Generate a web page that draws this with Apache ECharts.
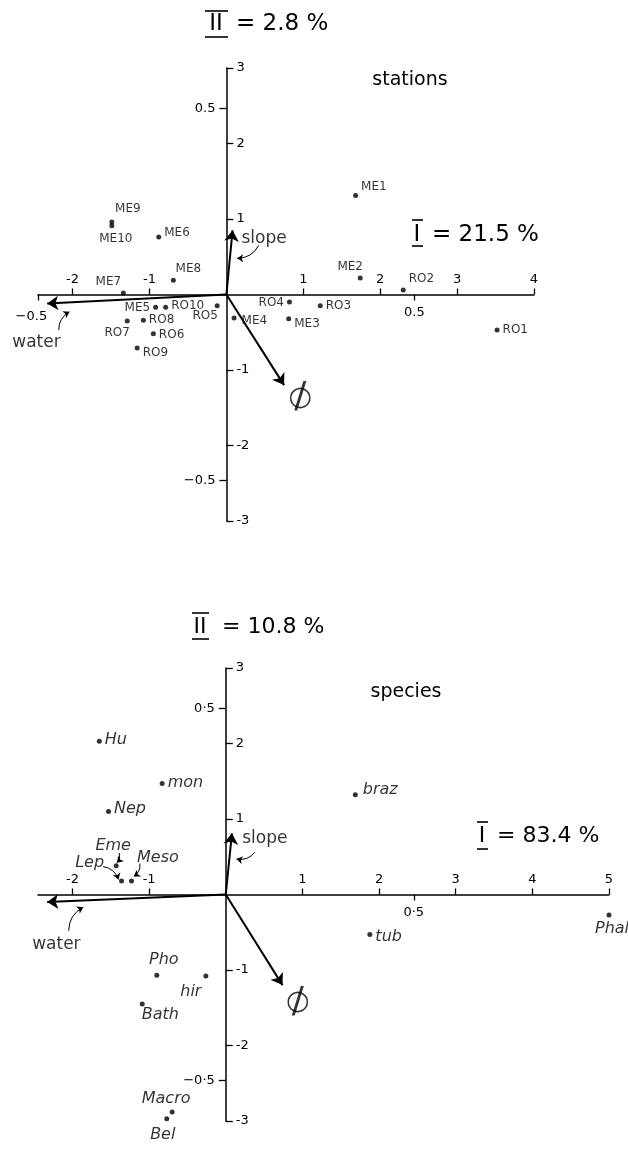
<!DOCTYPE html>
<html>
<head>
<meta charset="utf-8">
<script src="https://cdn.jsdelivr.net/npm/echarts@6/dist/echarts.min.js"></script>
<style>html,body{margin:0;padding:0;background:#fff}#c{width:628px;height:1152px}</style>
</head>
<body>
<div id="c"></div>
<script>
// ---------- DATA ----------
const stationNames = ['ME1','ME2','RO2','RO1','RO3','RO4','ME3','ME4','RO5','RO10','ME5','RO8','RO7','RO6','RO9','ME7','ME8','ME6','ME9','ME10'];
const stationX = [1.68, 1.74, 2.30, 3.52, 1.22, 0.82, 0.81, 0.10, -0.12, -0.79, -0.92, -1.08, -1.29, -0.95, -1.16, -1.34, -0.69, -0.88, -1.49, -1.49];
const stationY = [1.31, 0.22, 0.06, -0.47, -0.15, -0.10, -0.32, -0.31, -0.15, -0.17, -0.17, -0.34, -0.35, -0.52, -0.71, 0.02, 0.19, 0.76, 0.96, 0.91];

const speciesNames = ['Hu','mon','Nep','Eme','Lep','Meso','braz','tub','Phal','Pho','hir','Bath','Macro','Bel'];
const speciesX = [-1.65, -0.83, -1.53, -1.43, -1.36, -1.23, 1.69, 1.88, 5.0, -0.90, -0.26, -1.09, -0.70, -0.77];
const speciesY = [2.03, 1.47, 1.10, 0.38, 0.18, 0.18, 1.32, -0.53, -0.27, -1.07, -1.08, -1.45, -2.88, -2.97];

const vectorNames = ['water','slope','phi'];
const stationVecX = [-2.33, 0.08, 0.75];
const stationVecY = [-0.12, 0.85, -1.20];
const speciesVecX = [-2.33, 0.08, 0.74];
const speciesVecY = [-0.10, 0.81, -1.20];

const xMin = -2.45;
const xMaxTop = 4, xMaxBottom = 5;
const yMin = -3, yMax = 3;
const primaryXTicksTop = [-2, -1, 1, 2, 3, 4];
const primaryXTicksBottom = [-2, -1, 1, 2, 3, 4, 5];
const primaryYTicks = [-3, -2, -1, 1, 2, 3];
const secondaryTicks = [-0.5, 0.5];
const secondaryLabelsTop = {'-0.5': '\u22120.5', '0.5': '0.5'};
const secondaryLabelsBottom = {'-0.5': '\u22120\u00b75', '0.5': '0\u00b75'};

const axisTitlesTop = ['II', '= 2.8 %', 'I', '= 21.5 %', 'stations'];
const axisTitlesBottom = ['II', '= 10.8 %', 'I', '= 83.4 %', 'species'];

// ---------- LAYOUT / STYLE ----------
const FONT = 'DejaVu Sans';
const INK = '#000000';
const grids = [
  {left:38, top:68, width:496, height:453},
  {left:38, top:668, width:571, height:453}
];
const stationPlace = {
  ME1:['right',[0,-9]], ME2:['top',[-10,0]], RO2:['right',[0,-11]], RO1:['right',[0,0]],
  RO3:['right',[0,0]], RO4:['left',[0,1]], ME3:['right',[0,5]], ME4:['right',[2,3]],
  RO5:['bottom',[-12,-1]], RO10:['right',[0,-1]], ME5:['left',[0,1]], RO8:['right',[0,0]],
  RO7:['bottom',[-10,0]], RO6:['right',[0,1]], RO9:['right',[0,5]], ME7:['top',[-15,0]],
  ME8:['top',[15,0]], ME6:['right',[0,-4]], ME9:['top',[16,-2]], ME10:['bottom',[4,2]]
};
const speciesPlace = {
  Hu:['right',[0,-1]], mon:['right',[0,-1]], Nep:['right',[0,-3]], Eme:['top',[-3,-6]],
  Lep:['left',[-12,-18]], Meso:['right',[0,-23]], braz:['right',[2,-5]], tub:['right',[0,2]],
  Phal:['bottom',[3,0]], Pho:['top',[7,-2]], hir:['bottom',[-15,2]], Bath:['right',[-6,11]],
  Macro:['top',[-6,0]], Bel:['bottom',[-4,3]]
};
// text anchors (data units) for vector names
const stationVecText = {slope:[0.49,0.74], water:[-2.47,-0.64], phi:[0.96,-1.37]};
const speciesVecText = {slope:[0.51,0.74], water:[-2.21,-0.66], phi:[0.94,-1.43]};
// little leader arrows (data units)
const stationLeaders = [[[0.42,0.65],[0.14,0.48]], [[-2.18,-0.47],[-2.04,-0.23]]];
const speciesLeaders = [[[0.38,0.56],[0.14,0.47]], [[-2.05,-0.48],[-1.86,-0.17]],
  [[-1.60,0.37],[-1.40,0.20]], [[-1.39,0.55],[-1.42,0.42]], [[-1.12,0.41],[-1.20,0.24]]];

const chart = echarts.init(document.getElementById('c'), null, {renderer:'canvas'});

function secFormatter(labels) {
  return v => v < 0 ? '{n|' + labels[String(v)] + '}' : labels[String(v)];
}

function axisPair(g, xMax, xTicks, secLabels) {
  const gr = grids[g];
  // pixel position of the origin inside the grid -> axis offsets so the axes cross at (0,0)
  const ox = gr.left + gr.width * (0 - xMin) / (xMax - xMin);
  const oy = gr.top + gr.height * (yMax - 0) / (yMax - yMin);
  const secXPerPx = 0.5 / 188;
  const secXMax = (gr.left + gr.width - ox) * secXPerPx;
  const secXMin = -(ox - gr.left) * secXPerPx;
  const secYMax = (oy - gr.top) * (0.5 / 186);
  const tickStyle = {color: INK, width: 1.3};
  const labStyle = {color: INK, fontFamily: FONT, fontSize: 13};
  const xs = [
    {type:'value', gridIndex:g, min:xMin, max:xMax, position:'top', offset:-(oy - gr.top),
     axisLine:{show:true, onZero:false, lineStyle:{color:INK, width:1.5}},
     axisTick:{show:true, inside:false, length:6, customValues:xTicks, lineStyle:tickStyle},
     axisLabel:Object.assign({show:true, margin:8, customValues:xTicks}, labStyle),
     splitLine:{show:false}},
    {type:'value', gridIndex:g, min:secXMin, max:secXMax, position:'bottom', offset:-(gr.top + gr.height - oy),
     axisLine:{show:false, onZero:false},
     axisTick:{show:true, inside:false, length:6, customValues:secondaryTicks, lineStyle:tickStyle},
     axisLabel:Object.assign({show:true, margin:12, customValues:secondaryTicks, formatter:secFormatter(secLabels),
       rich:{n:{fontFamily:FONT, fontSize:13, color:INK, padding:[4 + g*3, 14, 0, 0]}}}, labStyle),
     splitLine:{show:false}}
  ];
  const ys = [
    {type:'value', gridIndex:g, min:yMin, max:yMax, position:'right', offset:-(gr.left + gr.width - ox),
     axisLine:{show:true, onZero:false, lineStyle:{color:INK, width:1.5}},
     axisTick:{show:true, inside:false, length:7, customValues:primaryYTicks, lineStyle:tickStyle},
     axisLabel:Object.assign({show:true, margin:10, customValues:primaryYTicks}, labStyle),
     splitLine:{show:false}},
    {type:'value', gridIndex:g, min:-secYMax, max:secYMax, position:'left', offset:-(ox - gr.left),
     axisLine:{show:false, onZero:false},
     axisTick:{show:true, inside:false, length:7, customValues:secondaryTicks, lineStyle:tickStyle},
     axisLabel:Object.assign({show:true, margin:11, customValues:secondaryTicks, formatter:v=>secLabels[String(v)]}, labStyle),
     splitLine:{show:false}}
  ];
  return {xs, ys};
}

function pointSeries(g, names, xs, ys, place, italic, size) {
  return {
    type:'scatter', xAxisIndex:g*2, yAxisIndex:g*2, symbolSize:5, z:5, clip:false,
    itemStyle:{color:INK}, silent:true,
    label:{show:true, formatter:'{b}', color:INK, fontFamily:FONT, fontSize:size,
           fontStyle: italic ? 'italic' : 'normal', distance:3},
    data: names.map((n,i)=>({name:n, value:[xs[i], ys[i]],
           label:{position:place[n][0], offset:place[n][1]}}))
  };
}

function vectorSeries(g, vx, vy) {
  return {
    type:'lines', coordinateSystem:'cartesian2d', xAxisIndex:g*2, yAxisIndex:g*2,
    symbol:['none','arrow'], symbolSize:[7,11], z:4, silent:true,
    lineStyle:{color:INK, width:2, opacity:1, curveness:0},
    data: vectorNames.map((n,i)=>({coords:[[0,0],[vx[i],vy[i]]]}))
  };
}

function leaderSeries(g, leaders) {
  return {
    type:'lines', coordinateSystem:'cartesian2d', xAxisIndex:g*2, yAxisIndex:g*2,
    symbol:['none','arrow'], symbolSize:[4,6], z:4, silent:true,
    lineStyle:{color:INK, width:1, opacity:1, curveness:0.3},
    data: leaders.map(c=>({coords:c}))
  };
}

function vecTextSeries(g, anchors) {
  const items = [
    {name:'slope', value:anchors.slope},
    {name:'water', value:anchors.water},
    {name:'\u25CB', value:anchors.phi, label:{fontSize:27, offset:[0,-1]}},
    {name:'/', value:anchors.phi, label:{fontSize:36, offset:[0,3]}}
  ];
  return {
    type:'scatter', xAxisIndex:g*2, yAxisIndex:g*2, symbolSize:0, silent:true, z:6, clip:false,
    label:{show:true, position:'inside', formatter:'{b}', color:INK, fontFamily:FONT, fontSize:17},
    labelLayout:{hideOverlap:false},
    data: items
  };
}

const a0 = axisPair(0, xMaxTop, primaryXTicksTop, secondaryLabelsTop);
const a1 = axisPair(1, xMaxBottom, primaryXTicksBottom, secondaryLabelsBottom);

function titleGraphics(texts, y0, iiX, iiBars, eqX, iX, iBars, iY, eqIX, subX, subY, fs) {
  const els = [];
  const tstyle = (t, x, y, size, align) => ({type:'text', style:{text:t, x, y, fill:INK,
      font: size + 'px "' + FONT + '"', textAlign:align||'left', textVerticalAlign:'middle'}});
  const bar = (x1, x2, y) => ({type:'line', shape:{x1, y1:y, x2, y2:y}, style:{stroke:INK, lineWidth:1.6}});
  els.push(tstyle(texts[0], iiX, y0, fs, 'center'));
  els.push(tstyle(texts[1], eqX, y0, fs));
  els.push(bar(iiBars[0], iiBars[1], iiBars[2]));
  els.push(bar(iiBars[0], iiBars[1], iiBars[3]));
  els.push(tstyle(texts[2], iX, iY, fs, 'center'));
  els.push(tstyle(texts[3], eqIX, iY, fs));
  els.push(bar(iBars[0], iBars[1], iBars[2]));
  els.push(bar(iBars[0], iBars[1], iBars[3]));
  els.push(tstyle(texts[4], subX, subY, 19, 'center'));
  return els;
}

const graphics = [].concat(
  titleGraphics(axisTitlesTop, 24, 216, [205,228,11,37], 236, 417, [412,423,220,246], 235, 432, 410, 80, 23),
  titleGraphics(axisTitlesBottom, 627, 200, [192,209,613,639], 222, 482, [477,488,822,849], 836, 497, 406, 692, 22)
);

chart.setOption({
  backgroundColor:'#ffffff',
  animation:false,
  textStyle:{fontFamily:FONT},
  grid: grids.map(g => Object.assign({outerBoundsMode:'none', containLabel:false}, g)),
  xAxis: a0.xs.concat(a1.xs),
  yAxis: a0.ys.concat(a1.ys),
  graphic: graphics,
  series: [
    vectorSeries(0, stationVecX, stationVecY),
    leaderSeries(0, stationLeaders),
    pointSeries(0, stationNames, stationX, stationY, stationPlace, false, 12),
    vecTextSeries(0, stationVecText),
    vectorSeries(1, speciesVecX, speciesVecY),
    leaderSeries(1, speciesLeaders),
    pointSeries(1, speciesNames, speciesX, speciesY, speciesPlace, true, 16),
    vecTextSeries(1, speciesVecText)
  ]
});
</script>
</body>
</html>
